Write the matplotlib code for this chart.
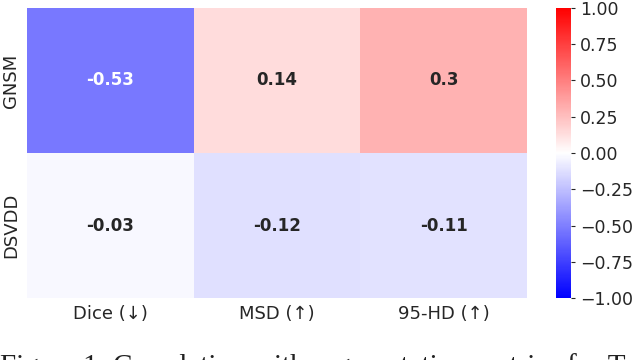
import numpy as np
import matplotlib
matplotlib.use("Agg")
import matplotlib.pyplot as plt
import seaborn as sns

# correlation values
methods = ["GNSM", "DSVDD"]
metrics = ["Dice (\u2193)", "MSD (\u2191)", "95-HD (\u2191)"]
gnsm = [-0.53, 0.14, 0.3]
dsvdd = [-0.03, -0.12, -0.11]

data = np.array([gnsm, dsvdd])

sns.set_style("white")
plt.rcParams['font.family'] = ['DejaVu Sans']

fig = plt.figure(figsize=(6.36, 3.6), dpi=100)
ax = fig.add_axes([0.042, 0.172, 0.787, 0.806])
cax = fig.add_axes([0.874, 0.172, 0.024, 0.806])

sns.heatmap(data, ax=ax, cbar_ax=cax, cmap="bwr", vmin=-1, vmax=1,
            annot=True, annot_kws={"fontsize": 12, "fontweight": "bold"},
            xticklabels=metrics, yticklabels=methods)

ax.tick_params(axis='both', labelsize=13, length=0, colors='#262626', pad=5)
ax.set_yticklabels(methods, rotation=90, va='center')
cax.tick_params(labelsize=12.5, colors='#262626', length=3)

# figure caption, cut off at the bottom edge as in the source image
fig.text(0.0, -0.038, "Figure 1: Correlation with segmentation metrics for T",
         family='Liberation Serif', fontsize=21, color='#222222', va='baseline')

fig.savefig("out.png", dpi=100)
